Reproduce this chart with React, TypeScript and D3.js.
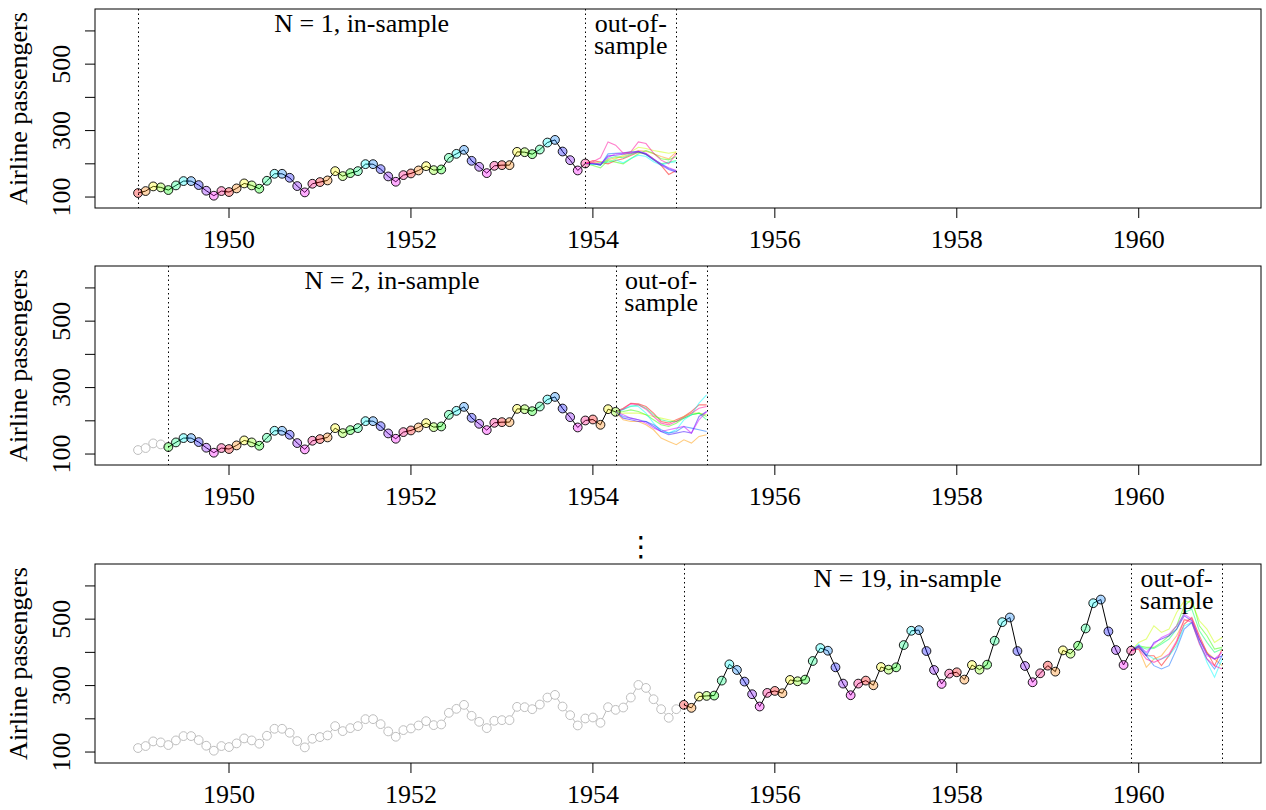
import React from "react";
import * as d3 from "d3";

// ---- data ----
const START_YEAR = 1949;
const passengers = [
  112, 118, 132, 129, 121, 135, 148, 148, 136, 119, 104, 118,
  115, 126, 141, 135, 125, 149, 170, 170, 158, 133, 114, 140,
  145, 150, 178, 163, 172, 178, 199, 199, 184, 162, 146, 166,
  171, 180, 193, 181, 183, 218, 230, 242, 209, 191, 172, 194,
  196, 196, 236, 235, 229, 243, 264, 272, 237, 211, 180, 201,
  204, 188, 235, 227, 234, 264, 302, 293, 259, 229, 203, 229,
  242, 233, 267, 269, 270, 315, 364, 347, 312, 274, 237, 278,
  284, 277, 317, 313, 318, 374, 413, 405, 355, 306, 271, 306,
  315, 301, 356, 348, 355, 422, 465, 467, 404, 347, 305, 336,
  340, 318, 362, 348, 363, 435, 491, 505, 404, 359, 310, 337,
  360, 342, 406, 396, 420, 472, 548, 559, 463, 407, 362, 405,
  417, 391, 419, 461, 472, 535, 622, 606, 508, 461, 390, 432,
];
const monthColors = [
  "#FF0000", "#FF8000", "#FFFF00", "#80FF00", "#00FF00", "#00FF80",
  "#00FFFF", "#0080FF", "#0000FF", "#8000FF", "#FF00FF", "#FF0080",
];
const pathColors = [
  "#FF0000", "#FF9900", "#CCFF00", "#33FF00", "#00FF66",
  "#00FFFF", "#0066FF", "#3300FF", "#CC00FF", "#FF0099",
];
const panelN = [1, 2, 19];
const windowStart = [0, 4, 72];
const WINDOW = 60;

const forecasts1 = [
  [210, 205, 200, 210, 215, 225, 235, 230, 215, 195, 168, 180],
  [205, 198, 212, 218, 222, 230, 240, 238, 230, 222, 215, 236],
  [200, 206, 205, 215, 226, 236, 250, 246, 240, 236, 232, 236],
  [195, 188, 210, 205, 200, 215, 230, 240, 232, 215, 212, 222],
  [200, 196, 216, 222, 218, 228, 236, 228, 212, 200, 205, 210],
  [198, 204, 205, 212, 203, 216, 226, 222, 206, 196, 203, 206],
  [200, 196, 230, 232, 233, 236, 238, 230, 214, 200, 186, 178],
  [200, 197, 224, 226, 229, 232, 236, 228, 212, 196, 183, 175],
  [202, 200, 220, 230, 232, 234, 238, 232, 215, 198, 188, 180],
  [206, 218, 266, 256, 232, 236, 266, 261, 232, 211, 200, 231],
];
const forecasts2 = [
  [238, 253, 251, 243, 223, 198, 193, 203, 213, 228, 248, 248],
  [203, 198, 198, 188, 173, 148, 138, 128, 143, 133, 153, 158],
  [223, 223, 223, 218, 213, 208, 203, 198, 213, 223, 223, 218],
  [228, 233, 228, 218, 203, 188, 183, 193, 208, 218, 223, 213],
  [235, 243, 248, 238, 218, 203, 198, 198, 208, 218, 223, 203],
  [233, 245, 243, 223, 193, 168, 163, 173, 203, 218, 253, 278],
  [213, 208, 203, 198, 188, 173, 163, 168, 183, 178, 173, 168],
  [208, 203, 198, 198, 183, 168, 158, 163, 168, 163, 213, 228],
  [218, 208, 203, 193, 178, 168, 173, 178, 183, 163, 203, 228],
  [235, 251, 248, 235, 213, 193, 188, 198, 211, 223, 238, 243],
];
const forecasts3 = [
  [415, 390, 390, 360, 390, 430, 485, 505, 450, 400, 360, 410],
  [410, 355, 380, 390, 420, 450, 495, 500, 440, 400, 380, 360],
  [430, 440, 480, 460, 470, 520, 555, 550, 495, 470, 430, 445],
  [420, 415, 415, 430, 450, 480, 540, 560, 480, 450, 410, 415],
  [418, 410, 412, 425, 440, 470, 520, 530, 465, 430, 400, 410],
  [425, 395, 380, 380, 390, 420, 480, 490, 430, 370, 325, 380],
  [415, 390, 360, 350, 360, 410, 470, 490, 430, 380, 350, 390],
  [420, 390, 430, 440, 450, 470, 510, 495, 440, 395, 380, 390],
  [420, 400, 425, 445, 455, 480, 515, 500, 440, 390, 380, 400],
  [410, 380, 370, 380, 395, 435, 500, 490, 425, 380, 360, 350],
];
const panelForecasts = [forecasts1, forecasts2, forecasts3];

const xTicks = [1950, 1952, 1954, 1956, 1958, 1960];
const yTicks = [100, 200, 300, 400, 500, 600];
const yLabelTicks = [100, 300, 500];

// ---- layout ----
const W = 1266;
const H = 810;
const LEFT = 95;
const RIGHT = 1261;
const PANEL_H = 199;
const panelTops = [9, 266, 564];
const FONT = "'Liberation Serif', 'Times New Roman', serif";
const FS = 26;

const t = (i: number) => START_YEAR + i / 12;

const x = d3.scaleLinear().domain([1948.527, 1961.344]).range([LEFT, RIGHT]);

function Panel({ idx }: { idx: number }) {
  const top = panelTops[idx];
  const bottom = top + PANEL_H;
  const y = d3.scaleLinear().domain([67, 666]).range([bottom, top]);
  const s = windowStart[idx];
  const e = s + WINDOW - 1;
  const tStart = t(s);
  const tEnd = t(e);
  const tOut = t(e + 12);

  const line = d3
    .line<[number, number]>()
    .x((d) => x(d[0]))
    .y((d) => y(d[1]));

  const pre: [number, number][] = passengers.slice(0, s).map((v, i) => [t(i), v]);
  const ins: [number, number][] = passengers
    .slice(s, e + 1)
    .map((v, i) => [t(s + i), v]);
  const lastVal = passengers[e];

  const dotted = "1.5 3";
  const snap = (v: number) => Math.round(v) + 0.5;

  return (
    <g>
      {/* forecast paths */}
      {panelForecasts[idx].map((fc, k) => {
        const pts: [number, number][] = [[tEnd, lastVal], ...fc.map((v, j) => [t(e + 1 + j), v] as [number, number])];
        return (
          <path
            key={"f" + k}
            d={line(pts) || ""}
            fill="none"
            stroke={pathColors[k]}
            strokeOpacity={0.5}
            strokeWidth={1.1}
          />
        );
      })}

      {/* grey prefix */}
      {pre.length > 0 && (
        <g>
          <path d={line(pre) || ""} fill="none" stroke="#BEBEBE" strokeWidth={1} />
          {pre.map((d, i) => (
            <circle key={"g" + i} cx={x(d[0])} cy={y(d[1])} r={4.4} fill="#fff" stroke="#BEBEBE" strokeWidth={1} />
          ))}
        </g>
      )}

      {/* in-sample */}
      <path d={line(ins) || ""} fill="none" stroke="#000" strokeWidth={1} />
      {ins.map((d, i) => (
        <circle
          key={"p" + i}
          cx={x(d[0])}
          cy={y(d[1])}
          r={4.4}
          fill={monthColors[(s + i) % 12]}
          fillOpacity={0.32}
          stroke="#000"
          strokeWidth={0.9}
        />
      ))}

      {/* dotted lines */}
      {[tStart, tEnd, tOut].map((tv, i) => (
        <line
          key={"v" + i}
          x1={snap(x(tv))}
          x2={snap(x(tv))}
          y1={top}
          y2={bottom}
          stroke="#000"
          strokeWidth={1}
          strokeDasharray={dotted}
        />
      ))}

      {/* labels */}
      <text x={x((tStart + tEnd) / 2)} y={top + 23} textAnchor="middle" fontFamily={FONT} fontSize={FS}>
        {`N = ${panelN[idx]}, in-sample`}
      </text>
      <text x={x((tEnd + tOut) / 2)} y={top + 23} textAnchor="middle" fontFamily={FONT} fontSize={FS}>
        out-of-
      </text>
      <text x={x((tEnd + tOut) / 2)} y={top + 45} textAnchor="middle" fontFamily={FONT} fontSize={FS}>
        sample
      </text>

      {/* box */}
      <rect x={LEFT} y={top} width={RIGHT - LEFT} height={PANEL_H} fill="none" stroke="#000" strokeWidth={1} />

      {/* x axis */}
      {xTicks.map((v) => (
        <g key={"x" + v}>
          <line x1={x(v)} x2={x(v)} y1={bottom} y2={bottom + 10} stroke="#000" strokeWidth={1} />
          <text x={x(v)} y={bottom + 40} textAnchor="middle" fontFamily={FONT} fontSize={FS}>
            {v}
          </text>
        </g>
      ))}

      {/* y axis */}
      {yTicks.map((v) => (
        <line key={"y" + v} x1={LEFT - 10} x2={LEFT} y1={y(v)} y2={y(v)} stroke="#000" strokeWidth={1} />
      ))}
      {yLabelTicks.map((v) => (
        <text
          key={"yl" + v}
          transform={`translate(70,${y(v)}) rotate(-90)`}
          textAnchor="middle"
          fontFamily={FONT}
          fontSize={FS}
        >
          {v}
        </text>
      ))}
      <text
        transform={`translate(27,${top + PANEL_H / 2}) rotate(-90)`}
        textAnchor="middle"
        fontFamily={FONT}
        fontSize={FS}
      >
        Airline passengers
      </text>
    </g>
  );
}

export default function App() {
  return (
    <svg
      width={W}
      height={H}
      style={{ position: "absolute", left: 0, top: 0, display: "block", background: "#fff" }}
    >
      <rect x={0} y={0} width={W} height={H} fill="#fff" />
      {panelTops.map((_, i) => (
        <Panel key={i} idx={i} />
      ))}
      <text x={641} y={556} textAnchor="middle" fontFamily="'DejaVu Sans', sans-serif" fontSize={28}>
        ⋮
      </text>
    </svg>
  );
}
